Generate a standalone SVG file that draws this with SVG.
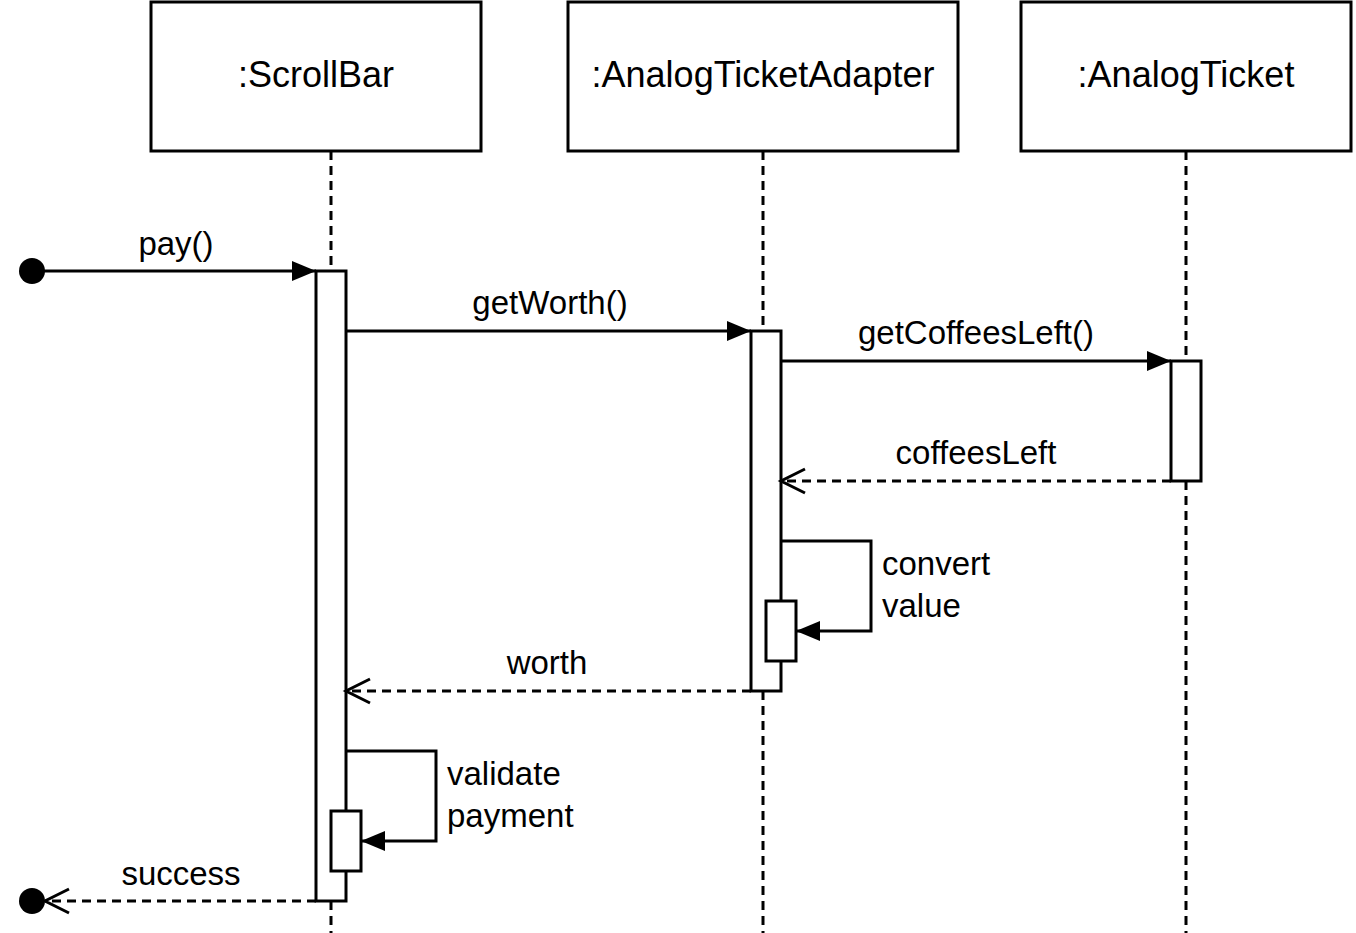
<svg xmlns="http://www.w3.org/2000/svg" width="1356" height="933" viewBox="0 0 1356 933">
<style>
.box{fill:#fff;stroke:#000;stroke-width:3}
.life{fill:none;stroke:#000;stroke-width:3;stroke-dasharray:9 6}
.msg{fill:none;stroke:#000;stroke-width:3}
.ret{fill:none;stroke:#000;stroke-width:3;stroke-dasharray:9 6}
.hdr{font-family:"Liberation Sans",Arial,sans-serif;font-size:36px;fill:#000;text-anchor:middle}
.lbl{font-family:"Liberation Sans",Arial,sans-serif;font-size:33px;fill:#000}
.c{text-anchor:middle}
</style>
<defs>
<marker id="filled" markerUnits="userSpaceOnUse" viewBox="0 0 24 20" refX="24" refY="10" markerWidth="24" markerHeight="20" orient="auto">
<path d="M0,0 L24,10 L0,20 z" fill="#000"/>
</marker>
<marker id="open" markerUnits="userSpaceOnUse" viewBox="-2 -2 30 30" refX="24" refY="12" markerWidth="30" markerHeight="30" orient="auto">
<path d="M0,0 L24,12 L0,24" fill="none" stroke="#000" stroke-width="3"/>
</marker>
</defs>
<rect width="1356" height="933" fill="#fff"/>
<g id="lifelines">
<line class="life" x1="331" y1="151" x2="331" y2="933"/>
<line class="life" x1="763" y1="151" x2="763" y2="933"/>
<line class="life" x1="1186" y1="151" x2="1186" y2="933"/>
</g>
<g id="scrollbar">
<rect class="box" x="151" y="2" width="330" height="149"/>
<text class="hdr" x="316" y="87">:ScrollBar</text>
</g>
<g id="adapter">
<rect class="box" x="568" y="2" width="390" height="149"/>
<text class="hdr" x="763" y="87">:AnalogTicketAdapter</text>
</g>
<g id="ticket">
<rect class="box" x="1021" y="2" width="330" height="149"/>
<text class="hdr" x="1186" y="87">:AnalogTicket</text>
</g>
<g id="activations">
<rect id="act-scrollbar" class="box" x="316" y="271" width="30" height="630"/>
<rect id="act-adapter" class="box" x="751" y="331" width="30" height="360"/>
<rect id="act-ticket" class="box" x="1171" y="361" width="30" height="120"/>
<rect id="act-convert" class="box" x="766" y="601" width="30" height="60"/>
<rect id="act-validate" class="box" x="331" y="811" width="30" height="60"/>
</g>
<g id="connectors">
<circle cx="32" cy="271" r="13" fill="#000"/>
<line class="msg" x1="32" y1="271" x2="316" y2="271" marker-end="url(#filled)"/>
<line class="msg" x1="346" y1="331" x2="751" y2="331" marker-end="url(#filled)"/>
<line class="msg" x1="781" y1="361" x2="1171" y2="361" marker-end="url(#filled)"/>
<line class="ret" x1="1171" y1="481" x2="781" y2="481" marker-end="url(#open)"/>
<polyline class="msg" points="781,541 871,541 871,631 796,631" marker-end="url(#filled)"/>
<line class="ret" x1="751" y1="691" x2="346" y2="691" marker-end="url(#open)"/>
<polyline class="msg" points="346,751 436,751 436,841 361,841" marker-end="url(#filled)"/>
<line class="ret" x1="316" y1="901" x2="45" y2="901" marker-end="url(#open)"/>
<circle cx="32" cy="901" r="13" fill="#000"/>
</g>
<g id="labels">
<text class="lbl c" x="176" y="255">pay()</text>
<text class="lbl c" x="550" y="314">getWorth()</text>
<text class="lbl c" x="976" y="344">getCoffeesLeft()</text>
<text class="lbl c" x="976" y="464">coffeesLeft</text>
<text class="lbl" x="882" y="575">convert</text>
<text class="lbl" x="882" y="617">value</text>
<text class="lbl c" x="547" y="674">worth</text>
<text class="lbl" x="447" y="785">validate</text>
<text class="lbl" x="447" y="827">payment</text>
<text class="lbl c" x="181" y="885">success</text>
</g>
</svg>
